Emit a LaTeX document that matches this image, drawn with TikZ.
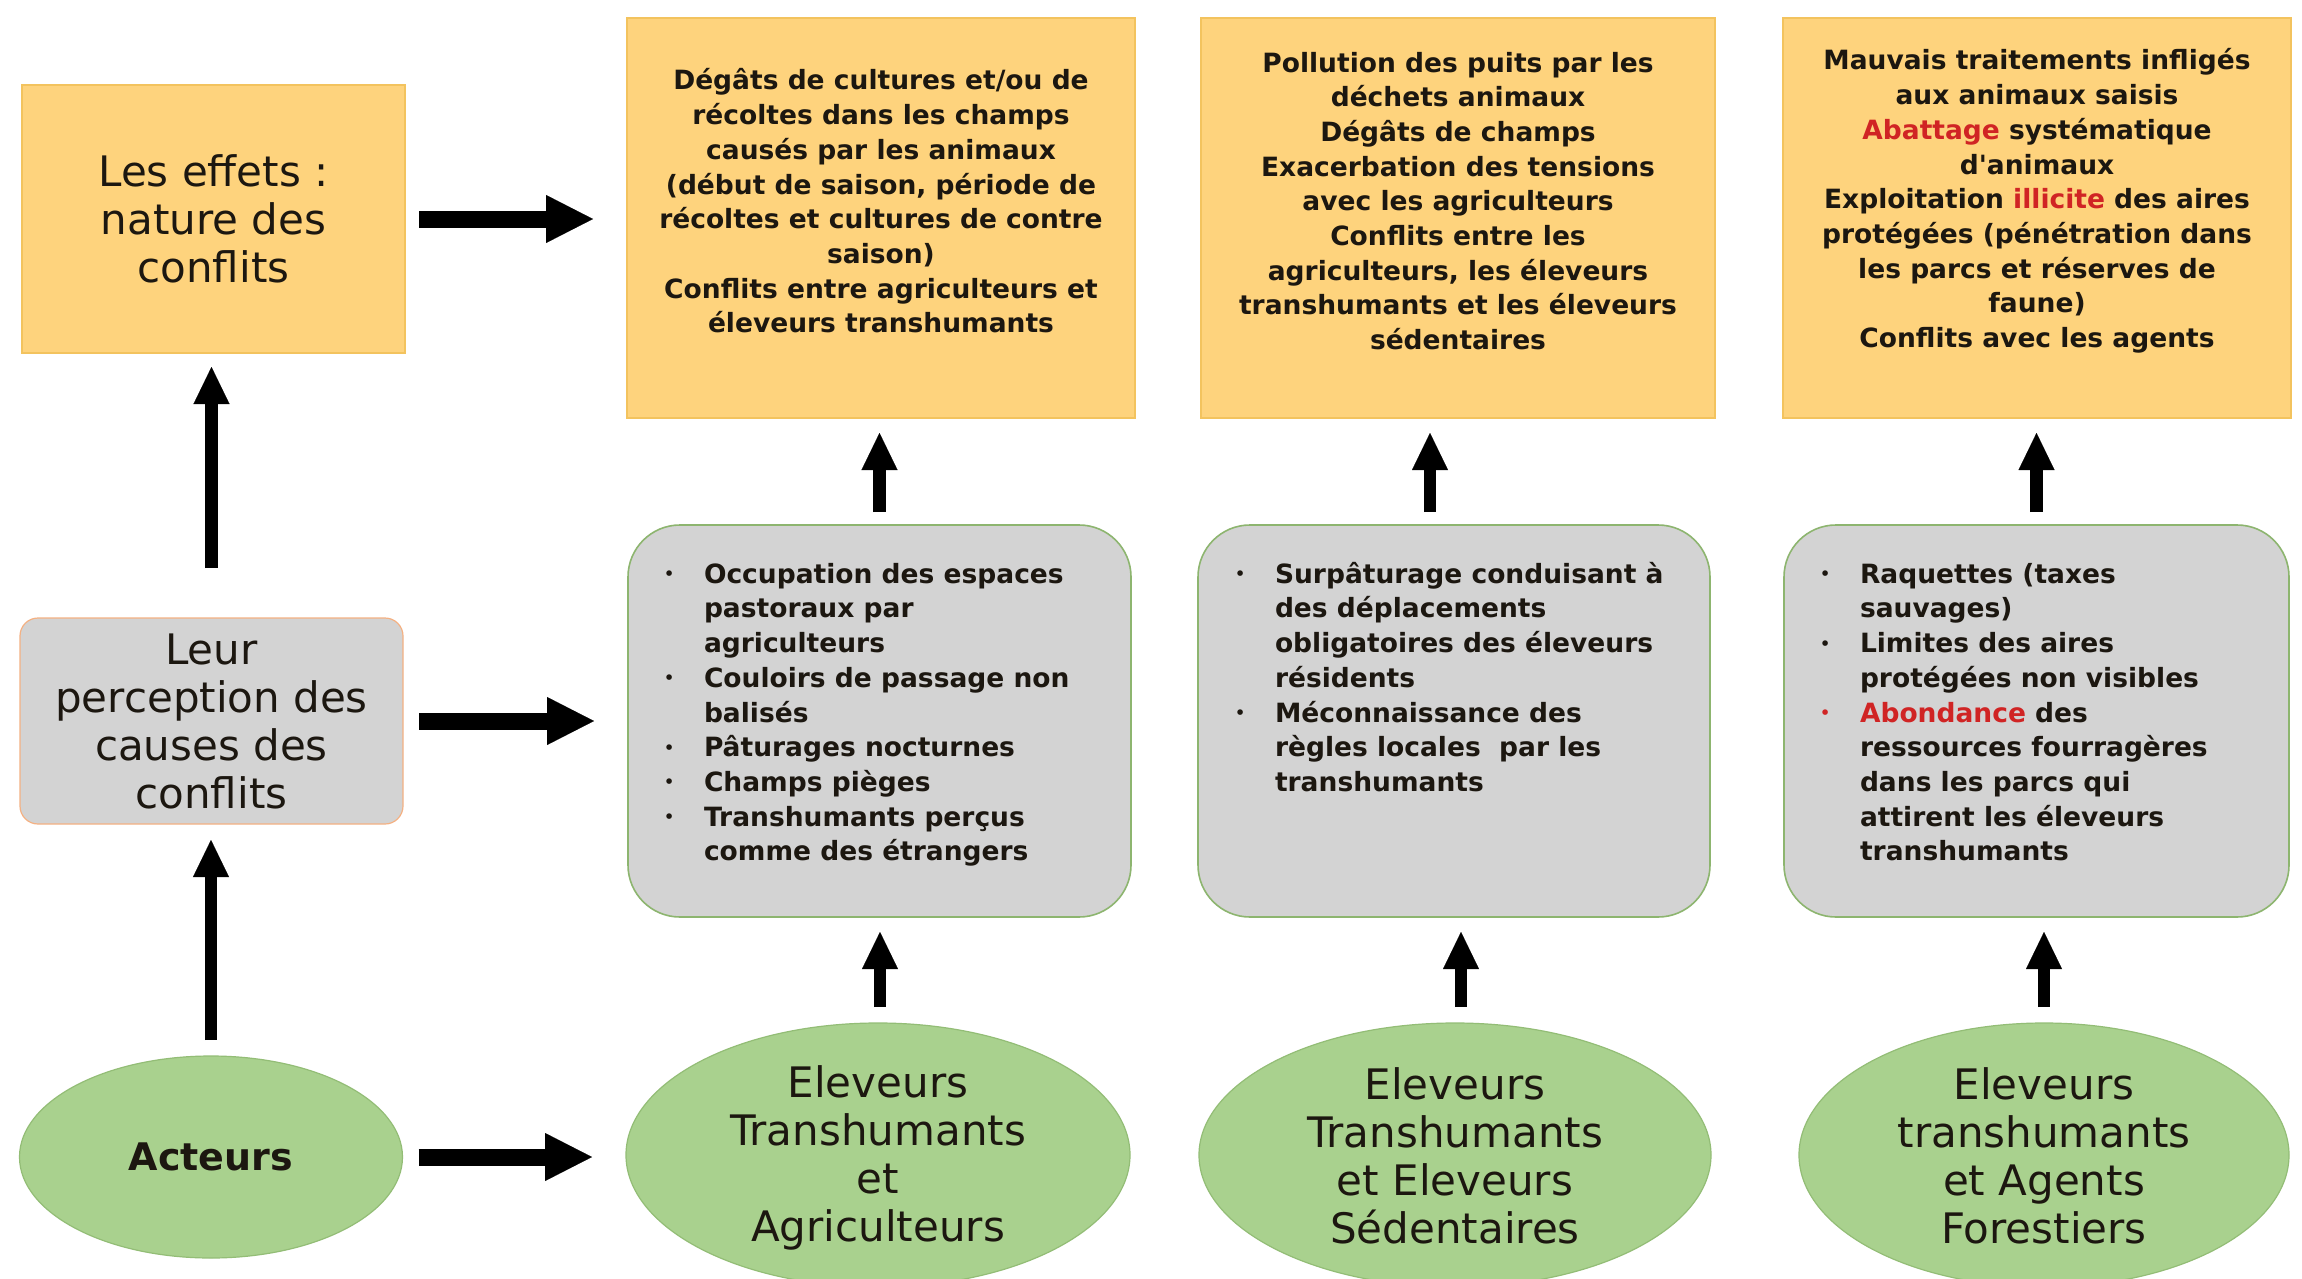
\documentclass[tikz,border=0pt]{standalone}
\usepackage{graphicx}
\usepackage{fontspec}
\setmainfont{DejaVu Sans}
\usetikzlibrary{arrows.meta,shapes.geometric}

\definecolor{effetfill}{HTML}{FED37D}
\definecolor{effetline}{HTML}{F3C35E}
\definecolor{causefill}{HTML}{D3D3D3}
\definecolor{causeline}{HTML}{8DB56F}
\definecolor{percline}{HTML}{F4B183}
\definecolor{actfill}{HTML}{A9D18E}
\definecolor{actline}{HTML}{93BD76}
\definecolor{hilite}{HTML}{D02424}
\definecolor{inktext}{HTML}{1C1710}

\newcommand\bigtxt{\fontsize{42}{48}\selectfont}
\newcommand\smalltxt{\fontsize{26.5}{34.7}\selectfont\bfseries}
\newcommand\dotmark{\raisebox{3.5pt}{\scalebox{0.6}{\textbullet}}}
\newcommand\bitem{\strut\makebox[40pt][l]{\dotmark}}
\newcommand\rbitem{\strut\makebox[40pt][l]{\color{hilite}\dotmark}}
\newcommand\bcont{\hspace*{40pt}}
\newcommand\hl[1]{\textcolor{hilite}{#1}}

\begin{document}
\begin{tikzpicture}[x=1pt,y=-1pt,
  every node/.style={inner sep=0pt,outer sep=0pt,text=inktext},
  effet/.style={rectangle,draw=effetline,fill=effetfill,line width=1.2pt},
  cause/.style={rectangle,rounded corners=52pt,draw=causeline,fill=causefill,line width=1.6pt},
  perc/.style={rectangle,rounded corners=18pt,draw=percline,fill=causefill,line width=1.2pt},
  acteur/.style={ellipse,draw=actline,fill=actfill,line width=1.2pt},
  centred/.style={align=center,font=\smalltxt},
  bullets/.style={align=left,font=\smalltxt,anchor=north west},
  large/.style={align=center,font=\bigtxt},
  harrow/.style={line width=17pt,-{Triangle[length=47pt,width=48pt,line width=0.1pt]}},
  varrow/.style={line width=12.5pt,-{Triangle[length=37pt,width=36pt,line width=0.1pt]}}
]
\fill[white] (0,0) rectangle (2302,1279);
\useasboundingbox (0,0) rectangle (2302,1279);

% left column: row titles
\node[effet,minimum width=383pt,minimum height=268pt] (eff) at (213.5,219) {};
\node[large] at (eff.center) {Les effets :\\nature des\\conflits};
\node[perc,minimum width=383pt,minimum height=206pt] (per) at (211.5,721) {};
\node[large] at (per.center) {Leur\\perception des\\causes des\\conflits};
\node[acteur,minimum width=383pt,minimum height=202pt] (act) at (211,1157) {};
\node[font=\fontsize{38}{44}\selectfont\bfseries] at (act.center) {Acteurs};

% effects
\node[effet,minimum width=508pt,minimum height=400pt] (ea) at (881,218) {};
\node[effet,minimum width=514pt,minimum height=400pt] (eb) at (1458,218) {};
\node[effet,minimum width=508pt,minimum height=400pt] (ec) at (2037,218) {};
\node[centred] at (881,201) {Dégâts de cultures et/ou de\\récoltes dans les champs\\causés par les animaux\\(début de saison, période de\\récoltes et cultures de contre\\saison)\\Conflits entre agriculteurs et\\éleveurs transhumants};
\node[centred] at (1458,201) {Pollution des puits par les\\déchets animaux\\Dégâts de champs\\Exacerbation des tensions\\avec les agriculteurs\\Conflits entre les\\agriculteurs, les éleveurs\\transhumants et les éleveurs\\sédentaires};
\node[centred] at (2037,201) {Mauvais traitements infligés\\aux animaux saisis\\\hl{Abattage} systématique\\d\textquotesingle animaux\\Exploitation \hl{illicite} des aires\\protégées (pénétration dans\\les parcs et réserves de\\faune)\\Conflits avec les agents};

% perceived causes
\node[cause,minimum width=503pt,minimum height=392pt] (ca) at (879.5,721) {};
\node[cause,minimum width=512pt,minimum height=392pt] (cb) at (1454,721) {};
\node[cause,minimum width=505pt,minimum height=392pt] (cc) at (2036.5,721) {};
\node[bullets] at (664,559) {\bitem Occupation des espaces\\\bcont pastoraux par\\\bcont agriculteurs\\\bitem Couloirs de passage non\\\bcont balisés\\\bitem Pâturages nocturnes\\\bitem Champs pièges\\\bitem Transhumants perçus\\\bcont comme des étrangers};
\node[bullets] at (1235,559) {\bitem Surpâturage conduisant à\\\bcont des déplacements\\\bcont obligatoires des éleveurs\\\bcont résidents\\\bitem Méconnaissance des\\\bcont règles locales~ par les\\\bcont transhumants};
\node[bullets] at (1820,559) {\bitem Raquettes (taxes\\\bcont sauvages)\\\bitem Limites des aires\\\bcont protégées non visibles\\\rbitem \hl{Abondance} des\\\bcont ressources fourragères\\\bcont dans les parcs qui\\\bcont attirent les éleveurs\\\bcont transhumants};

% actors
\node[acteur,minimum width=504pt,minimum height=264pt] (aa) at (878,1155) {};
\node[acteur,minimum width=512pt,minimum height=264pt] (ab) at (1455,1155) {};
\node[acteur,minimum width=490pt,minimum height=264pt] (ac) at (2044,1155) {};
\node[large] at (878,1158) {Eleveurs\\Transhumants\\et\\Agriculteurs};
\node[large] at (1455,1156) {Eleveurs\\Transhumants\\et Eleveurs\\Sédentaires};
\node[large] at (2044,1156) {Eleveurs\\transhumants\\et Agents\\Forestiers};

% row arrows
\draw[harrow,shorten <=14pt,shorten >=34pt] (eff.east) -- (eff.east -| ea.west);
\draw[harrow,shorten <=16pt,shorten >=34pt] (per.east) -- (per.east -| ca.west);
\draw[harrow,shorten <=16pt,shorten >=34pt] (act.east) -- (act.east -| aa.west);

% left column arrows
\draw[varrow,shorten <=16pt,shorten >=16pt] (act.north) -- (act.north |- per.south);
\draw[varrow,shorten <=50pt,shorten >=14pt] (per.north) -- (per.north |- eff.south);

% column arrows
\draw[varrow,shorten <=16pt,shorten >=15pt] ([xshift=2pt]aa.north) -- ([xshift=2pt]aa.north |- ca.south);
\draw[varrow,shorten <=13pt,shorten >=15pt] (ca.north) -- (ca.north |- ea.south);
\draw[varrow,shorten <=16pt,shorten >=15pt] ([xshift=6pt]ab.north) -- ([xshift=6pt]ab.north |- cb.south);
\draw[varrow,shorten <=13pt,shorten >=15pt] ([xshift=-24pt]cb.north) -- ([xshift=-24pt]cb.north |- eb.south);
\draw[varrow,shorten <=16pt,shorten >=15pt] (ac.north) -- (ac.north |- cc.south);
\draw[varrow,shorten <=13pt,shorten >=15pt] (cc.north) -- (cc.north |- ec.south);
\end{tikzpicture}
\end{document}
